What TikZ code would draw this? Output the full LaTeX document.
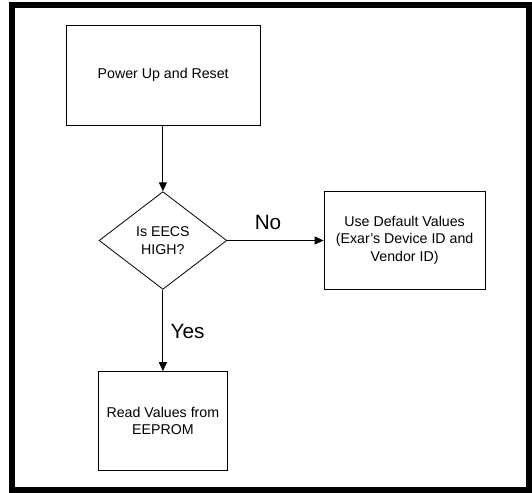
\documentclass[tikz,border=0pt]{standalone}
\usepackage{fontspec}
\setmainfont{Liberation Sans}
\usetikzlibrary{shapes.geometric,arrows.meta}
\begin{document}
\begin{tikzpicture}[x=1pt,y=-1pt,
  boxtext/.style={font=\fontsize{14.2}{17.6}\selectfont, align=center},
  procbox/.style={draw, line width=0.8pt, inner sep=0pt, boxtext},
  decbox/.style={draw, diamond, line width=0.8pt, inner sep=0pt, boxtext},
  conn/.style={line width=1pt, -{Triangle[length=9pt,width=8pt]}},
  lbl/.style={font=\fontsize{20.7}{24}\selectfont, inner sep=0pt}]
\useasboundingbox (0,0) rectangle (532,492);
\draw[line width=6pt] (12,5) rectangle (529,489.5);
\node[procbox, minimum width=194pt, minimum height=99.5pt] (power) at (163.2,75.2) {Power Up and Reset};
\node[decbox, minimum width=127.7pt, minimum height=97.7pt] (dec) at (162.9,240.5) {Is EECS\\HIGH?};
\node[procbox, minimum width=161.2pt, minimum height=98.4pt] (def) at (404.6,240.2) {Use Default Values\\(Exar's Device ID and\\Vendor ID)};
\node[procbox, minimum width=128.9pt, minimum height=99pt] (read) at (162.9,421.1) {Read Values from\\EEPROM};
\draw[conn] (power.south -| dec.north) -- (dec.north);
\draw[conn] (dec.east) -- (dec.east -| def.west);
\draw[conn] (dec.south) -- (dec.south |- read.north);
\node[lbl] (no) at (268,222.6) {No};
\node[lbl] (yes) at (187.5,331.5) {Yes};
\end{tikzpicture}
\end{document}
